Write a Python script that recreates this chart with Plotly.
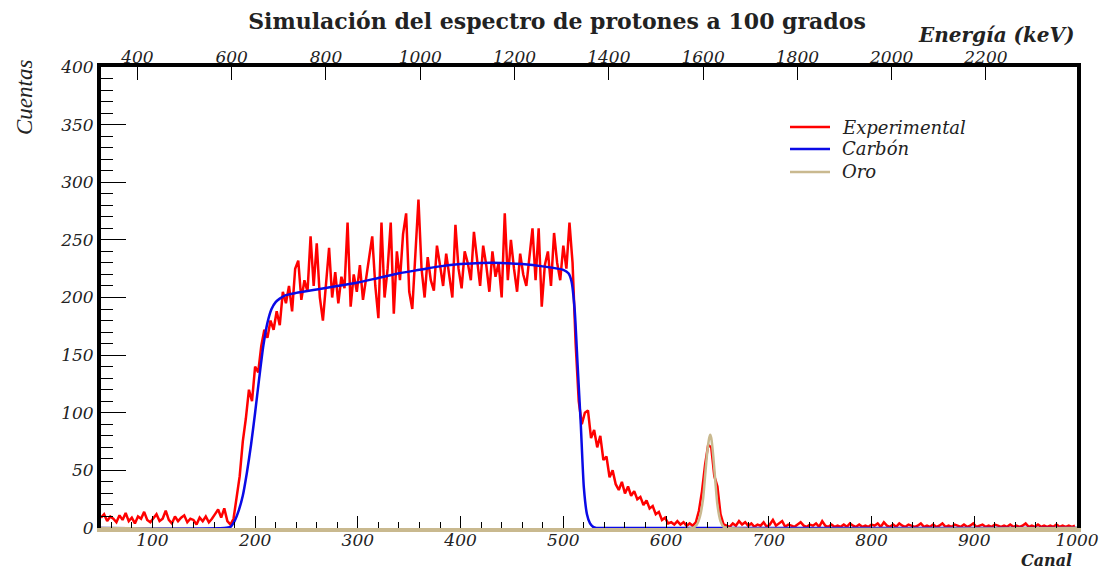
import plotly.graph_objects as go

# ---------------- data ----------------
titulo = "Simulación del espectro de protones a 100 grados"

canal_inicio = 50          # first channel of the experimental spectrum
canal_paso = 3             # channel step used when reading the spectrum

# Experimental counts, channel 50 .. 176
exp_fondo = [9, 12, 6, 10, 8, 5, 11, 7, 13, 6,
             9, 4, 10, 8, 14, 7, 5, 9, 12, 6,
             8, 15, 7, 4, 10, 6, 9, 11, 5, 8,
             7, 3, 9, 6, 10, 5, 8, 12, 16, 9,
             17, 6, 3]
# channel 179 .. 227 (rising edge)
exp_subida = [8, 25, 45, 75, 95, 120, 110, 140, 135, 158,
              172, 165, 180, 172, 188, 176, 205]
# channel 230 .. 506 (plateau)
exp_meseta = [195, 210, 188, 225, 232, 198, 215, 205, 253, 210,
              247, 200, 180, 215, 243, 200, 222, 195, 218, 208,
              265, 192, 220, 205, 228, 198, 215, 235, 253, 210,
              182, 265, 200, 225, 265, 186, 240, 215, 255, 273,
              205, 190, 240, 285, 225, 200, 235, 215, 206, 245,
              228, 210, 238, 220, 200, 263, 225, 208, 240, 230,
              215, 257, 235, 210, 245, 228, 205, 240, 218, 230,
              200, 273, 215, 250, 225, 205, 238, 220, 210, 235,
              260, 215, 260, 192, 228, 240, 210, 256, 230, 215,
              245, 225, 265]
# channel 509 .. 656 (falling edge, tail and gold peak)
exp_cola = [230, 160, 110, 90, 100, 102, 78, 85, 70, 80,
            59, 62, 44, 50, 38, 33, 40, 30, 36, 28,
            32, 25, 27, 20, 24, 17, 19, 12, 14, 7,
            9, 4, 5, 3, 6, 3, 5, 2, 4, 2,
            5, 15, 32, 55, 72, 70, 45, 36, 12, 3]
# channel 659 .. 998 (background)
exp_ruido = [2, 1, 4, 2, 6, 3, 5, 2, 4, 1,
             3, 2, 5, 1, 3, 7, 2, 4, 6, 1,
             3, 2, 1, 3, 5, 2, 1, 3, 2, 4,
             1, 6, 2, 1, 3, 1, 2, 1, 3, 1,
             4, 2, 1, 3, 1, 2, 1, 3, 2, 4,
             1, 5, 2, 1, 3, 1, 4, 2, 1, 3,
             2, 1, 2, 4, 1, 2, 1, 3, 1, 2,
             4, 1, 2, 1, 3, 2, 1, 3, 1, 2,
             4, 1, 2, 3, 1, 2, 1, 3, 2, 1,
             2, 1, 3, 1, 2, 1, 2, 4, 1, 2,
             1, 3, 1, 2, 1, 2, 1, 3, 1, 2,
             1, 2, 1, 2]

experimental = exp_fondo + exp_subida + exp_meseta + exp_cola + exp_ruido
canal_exp = [canal_inicio + canal_paso * i for i in range(len(experimental))]

carbon_canal = [50, 170, 176, 180, 184, 188, 192, 196, 200, 204, 208, 212, 216,
                220, 224, 230, 240, 260, 280, 300, 320, 340, 360, 380, 400, 420,
                440, 460, 480, 500, 505, 508, 511, 514, 517, 520, 523, 526, 529,
                532, 536, 540, 1000]
carbon_cuentas = [0, 0, 1, 6, 15, 28, 48, 72, 100, 130, 158, 178, 190,
                  196, 199, 202, 204, 207, 210, 213, 217, 221, 224, 227, 229, 230,
                  230, 229, 227, 224, 221, 214, 190, 140, 90, 35, 12, 4, 1,
                  0, 0, 0, 0]

oro_canal = [50, 626, 630, 633, 636, 638, 640, 642, 643, 644, 646, 648, 650,
             653, 656, 660, 1000]
oro_cuentas = [0, 0, 3, 10, 25, 45, 65, 78, 81, 78, 62, 40, 20,
               6, 1, 0, 0]

canal_rango = [50, 1000]
cuentas_rango = [0, 400]
energia_rango = [322.7, 2393.2]   # keV at channel 50 and 1000

canal_ticks = [100, 200, 300, 400, 500, 600, 700, 800, 900, 1000]
cuentas_ticks = [0, 50, 100, 150, 200, 250, 300, 350, 400]
energia_ticks = [400, 600, 800, 1000, 1200, 1400, 1600, 1800, 2000, 2200]

legend_labels = ["Experimental", "Carbón", "Oro"]
colores = ["#ff0000", "#0a0ae6", "#c9b98f"]

# ---------------- figure ----------------
SERIF_WIDE = "DejaVu Serif"
SERIF = "Liberation Serif"
TXT = "#222222"

# plot area in pixels (for placing texts in paper coordinates)
PL, PR, PT, PB = 101, 1077, 67, 528
PW, PH = PR - PL, PB - PT


def px_x(x):
    return (x - PL) / PW


def px_y(y):
    return (PB - y) / PH


fig = go.Figure()
fig.add_trace(go.Scatter(x=canal_exp, y=experimental, mode="lines",
                         name=legend_labels[0],
                         line=dict(color=colores[0], width=2.5)))
fig.add_trace(go.Scatter(x=carbon_canal, y=carbon_cuentas, mode="lines",
                         name=legend_labels[1],
                         line=dict(color=colores[1], width=2.5, shape="spline", smoothing=0.6)))
fig.add_trace(go.Scatter(x=oro_canal, y=oro_cuentas, mode="lines",
                         name=legend_labels[2],
                         line=dict(color=colores[2], width=2.5, shape="spline", smoothing=0.6)))
# invisible trace to carry the energy axis
fig.add_trace(go.Scatter(x=energia_rango, y=[0, 0], xaxis="x2", mode="lines",
                         line=dict(width=0, color="rgba(0,0,0,0)"),
                         showlegend=False, hoverinfo="skip"))

tickfont = dict(family=SERIF_WIDE, size=17, color=TXT, style="italic")

fig.update_layout(
    width=1114, height=570,
    margin=dict(l=PL, r=1114 - PR, t=PT, b=570 - PB),
    paper_bgcolor="white", plot_bgcolor="white",
    showlegend=False,
    title=dict(text=titulo, x=0.5, xanchor="center", y=1 - 21 / 570, yanchor="middle",
               font=dict(family=SERIF_WIDE, size=22, color=TXT, weight="bold")),
    xaxis=dict(range=canal_rango, tickmode="array", tickvals=canal_ticks,
               ticks="inside", ticklen=12, tickwidth=1, tickcolor="black",
               minor=dict(dtick=20, tick0=0, ticks="inside", ticklen=6,
                          tickwidth=1, tickcolor="black"),
               showline=True, linecolor=colores[2], linewidth=4,
               ticklabelstandoff=-6,
               showgrid=False, zeroline=False, tickfont=tickfont),
    xaxis2=dict(range=energia_rango, overlaying="x", side="top",
                tickmode="array", tickvals=energia_ticks,
                ticks="inside", ticklen=13, tickwidth=1, tickcolor="black",
                showline=True, linecolor="black", linewidth=4,
                ticklabelstandoff=-7,
                showgrid=False, zeroline=False, tickfont=tickfont),
    yaxis=dict(range=cuentas_rango, tickmode="array", tickvals=cuentas_ticks,
               ticks="inside", ticklen=25, tickwidth=1, tickcolor="black",
               minor=dict(dtick=10, tick0=0, ticks="inside", ticklen=12,
                          tickwidth=1, tickcolor="black"),
               showline=True, linecolor="black", linewidth=4, mirror=True,
               showgrid=False, zeroline=False, tickfont=tickfont),
)

# legend drawn as line samples + real text labels
leg_y = [127, 149, 172]
for nombre, color, yy in zip(legend_labels, colores, leg_y):
    fig.add_shape(type="line", xref="paper", yref="paper",
                  x0=px_x(790), x1=px_x(830), y0=px_y(yy), y1=px_y(yy),
                  line=dict(color=color, width=2.5))
    fig.add_annotation(text=nombre, xref="paper", yref="paper",
                       x=px_x(840), y=px_y(yy), xanchor="left", yanchor="middle",
                       showarrow=False,
                       font=dict(family=SERIF_WIDE, size=18, color=TXT, style="italic"))

fig.add_annotation(text="Energía (keV)", xref="paper", yref="paper",
                   x=1.0, y=px_y(35), xanchor="right", yanchor="middle",
                   showarrow=False,
                   font=dict(family=SERIF_WIDE, size=20, color=TXT,
                             weight="bold", style="italic"))
fig.add_annotation(text="Canal", xref="paper", yref="paper",
                   x=px_x(1074), y=px_y(560),
                   xanchor="right", yanchor="middle", showarrow=False,
                   font=dict(family=SERIF_WIDE, size=16, color=TXT,
                             weight="bold", style="italic"))
fig.add_annotation(text="Cuentas", xref="paper", yref="paper",
                   x=px_x(24), y=px_y(98),
                   xanchor="center", yanchor="middle", textangle=-90,
                   showarrow=False,
                   font=dict(family=SERIF, size=23, color=TXT, style="italic"))

fig.write_html("out.html")
